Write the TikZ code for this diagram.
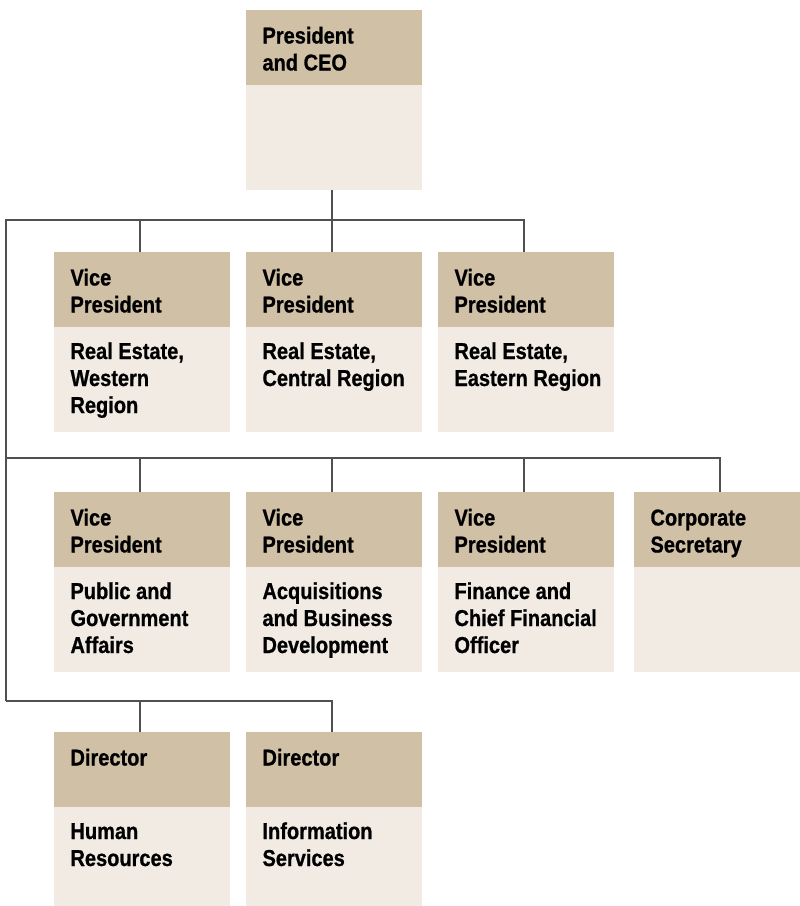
\documentclass[tikz,border=0pt]{standalone}
\usepackage{fontspec}
\newfontfamily\cond{Liberation Sans}[FakeStretch=0.87,FakeBold=0.8]
\definecolor{hdcol}{HTML}{D0C0A6}
\definecolor{bdcol}{HTML}{F2EBE4}
\definecolor{lncol}{HTML}{505050}
\newcommand{\boxtext}[1]{\vtop{\hsize=200pt\parindent=0pt\raggedright\cond\bfseries\fontsize{23}{27}\selectfont #1}}
\newcommand{\orgunit}[5]{%
  \node[hd] (#1) at (#2,#3) {};
  \node[bd] (#1b) at (#1.south west) {};
  \node[lbl] (#1t) at ([xshift=16.5pt,yshift=-33.5pt]#1.north west) {\boxtext{#4}};
  \node[lbl] (#1d) at ([xshift=16.5pt,yshift=-32pt]#1b.north west) {\boxtext{#5}};
}
\begin{document}
\begin{tikzpicture}[x=1pt,y=-1pt,
  hd/.style={fill=hdcol, minimum width=176pt, minimum height=75pt, anchor=north west, inner sep=0pt, outer sep=0pt},
  bd/.style={fill=bdcol, minimum width=176pt, minimum height=105pt, anchor=north west, inner sep=0pt, outer sep=0pt},
  lbl/.style={anchor=base west, inner sep=0pt, outer sep=0pt},
  conn/.style={draw=lncol, line width=1.1pt}]
\useasboundingbox (0,0) rectangle (800,906);
\clip (0,0) rectangle (800,906);
\fill[white] (0,0) rectangle (800,906);

\orgunit{ceo}{246}{10}{President\\and CEO}{}
\orgunit{ra}{54}{252}{Vice\\President}{Real Estate,\\Western\\Region}
\orgunit{rb}{246}{252}{Vice\\President}{Real Estate,\\Central Region}
\orgunit{rc}{438}{252}{Vice\\President}{Real Estate,\\Eastern Region}
\orgunit{sa}{54}{492}{Vice\\President}{Public and\\Government\\Affairs}
\orgunit{sb}{246}{492}{Vice\\President}{Acquisitions\\and Business\\Development}
\orgunit{sc}{438}{492}{Vice\\President}{Finance and\\Chief Financial\\Officer}
\orgunit{sd}{634}{492}{Corporate\\Secretary}{}
\orgunit{ta}{54}{732}{Director}{Human\\Resources}
\orgunit{tb}{246}{732}{Director}{Information\\Services}

\coordinate (L1) at (6,220);
\coordinate (L2) at (6,458);
\coordinate (L3) at (6,701);
\coordinate (d0) at ([xshift=-2pt]ceob.south);
\foreach \n in {ra,rb,rc,sa,sb,sc,sd,ta,tb}{
  \coordinate (\n-in) at ([xshift=-2pt]\n.north);
}
\draw[conn] (d0) -- (d0 |- L1);
\draw[conn] (L3) -- (L1) -| (rc-in);
\draw[conn] (ra-in) |- (L1);
\draw[conn] (rb-in) |- (L1);
\draw[conn] (L2) -| (sd-in);
\draw[conn] (sa-in) |- (L2);
\draw[conn] (sb-in) |- (L2);
\draw[conn] (sc-in) |- (L2);
\draw[conn] (L3) -| (tb-in);
\draw[conn] (ta-in) |- (L3);
\end{tikzpicture}
\end{document}
